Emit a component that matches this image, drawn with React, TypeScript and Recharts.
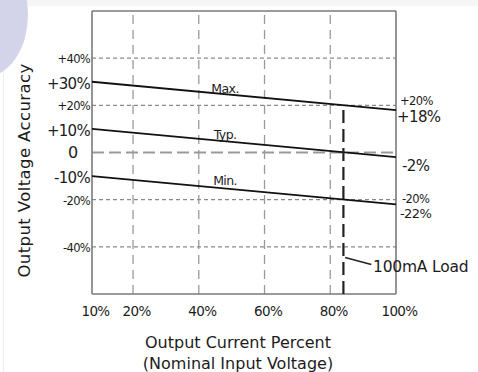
import React from 'react';
import { LineChart, Line, XAxis, YAxis, ReferenceLine, ReferenceDot } from 'recharts';

// ---- data ----
const X_VALUES = [10, 100];
const MAX_VALUES = [30, 18];
const TYP_VALUES = [10, -2];
const MIN_VALUES = [-10, -22];

const X_TICKS = [10, 20, 40, 60, 80, 100];
const X_TICK_LABELS = ['10%', '20%', '40%', '60%', '80%', '100%'];
const Y_TICKS = [40, 30, 20, 10, 0, -10, -20, -40];
const Y_TICK_LABELS = ['+40%', '+30%', '+20%', '+10%', '0', '-10%', '-20%', '-40%'];

const H_GRID = [40, 20, -20, -40];
const V_GRID = [20, 40, 60, 80];

const RIGHT_LABEL_TEXTS = ['+20%', '+18%', '-2%', '-20%', '-22%'];
const RIGHT_LABEL_VALUES = [20, 18, -2, -20, -22];

const SERIES_NAMES = ['Max.', 'Typ.', 'Min.'];
const SERIES_LABEL_X = [48, 48, 48];
const SERIES_LABEL_Y = [27.2, 7.7, -11.7];

const LOAD_X = 84;
const LOAD_TOP = 18;
const LOAD_TEXT = '100mA Load';

const data = X_VALUES.map((x, i) => ({ x, max: MAX_VALUES[i], typ: TYP_VALUES[i], min: MIN_VALUES[i] }));

// ---- styles ----
const FONT = '"DejaVu Sans", "Liberation Sans", sans-serif';
const TXT = '#1c1c1c';
const BIG_Y = new Set([30, 10, -10]);
const RIGHT_STYLE = [
  { size: 11.5, dx: 4, dy: -4 },
  { size: 15, dx: 1, dy: 7 },
  { size: 15, dx: 6, dy: 8 },
  { size: 11.5, dx: 6, dy: -1 },
  { size: 13, dx: 4, dy: 9 },
];

// piecewise linear x scale (the drawn axis is compressed between 10% and 20%)
const X_BREAKS = [10, 20, 100];
const X_BREAK_FRACS = [0, 0.135, 1];

function piecewiseScale(): any {
  let dom: number[] = [10, 100];
  let rng: number[] = [0, 1];
  const frac = (v: number) => {
    for (let i = 0; i < X_BREAKS.length - 1; i++) {
      const a = X_BREAKS[i];
      const b = X_BREAKS[i + 1];
      if (v <= b || i === X_BREAKS.length - 2) {
        const t = (v - a) / (b - a);
        return X_BREAK_FRACS[i] + t * (X_BREAK_FRACS[i + 1] - X_BREAK_FRACS[i]);
      }
    }
    return 0;
  };
  const s: any = (v: number) => rng[0] + frac(Number(v)) * (rng[1] - rng[0]);
  s.domain = (d?: number[]) => {
    if (d === undefined) return dom.slice();
    dom = d.slice();
    return s;
  };
  s.range = (r?: number[]) => {
    if (r === undefined) return rng.slice();
    rng = r.slice();
    return s;
  };
  s.copy = () => {
    const c = piecewiseScale();
    c.domain(dom);
    c.range(rng);
    return c;
  };
  s.ticks = () => X_TICKS.slice();
  s.tickFormat = () => (v: number) => String(v);
  s.nice = () => s;
  s.clamp = () => s;
  s.invert = (px: number) => {
    const f = (px - rng[0]) / (rng[1] - rng[0]);
    for (let i = 0; i < X_BREAKS.length - 1; i++) {
      if (f <= X_BREAK_FRACS[i + 1] || i === X_BREAKS.length - 2) {
        const t = (f - X_BREAK_FRACS[i]) / (X_BREAK_FRACS[i + 1] - X_BREAK_FRACS[i]);
        return X_BREAKS[i] + t * (X_BREAKS[i + 1] - X_BREAKS[i]);
      }
    }
    return X_BREAKS[0];
  };
  return s;
}

const xScale = piecewiseScale();

const XTick = (p: any) => {
  const idx = X_TICKS.indexOf(p.payload.value);
  return (
    <text x={p.x + 3.5} y={p.y + 22} textAnchor="middle" fontFamily={FONT} fontSize={13.5} fill={TXT} letterSpacing={-0.6}>
      {X_TICK_LABELS[idx]}
    </text>
  );
};

const YTick = (p: any) => {
  const v = p.payload.value;
  const idx = Y_TICKS.indexOf(v);
  if (v === 0) {
    return (
      <text x={73} y={p.y} dy="0.36em" textAnchor="middle" fontFamily={FONT} fontSize={16} fill={TXT}>
        {Y_TICK_LABELS[idx]}
      </text>
    );
  }
  const big = BIG_Y.has(v);
  return (
    <text x={p.x - 2} y={p.y + (big ? 2 : 1)} dy="0.36em" textAnchor="end" fontFamily={FONT} fontSize={big ? 15 : 11.5} fill={TXT} letterSpacing={-0.7}>
      {Y_TICK_LABELS[idx]}
    </text>
  );
};

const XTitle = (p: any) => {
  const vb = p.viewBox;
  const cx = vb.x + vb.width / 2 - 6;
  return (
    <text textAnchor="middle" fontFamily={FONT} fontSize={16} fill={TXT} letterSpacing={0}>
      <tspan x={cx} y={vb.y + 54}>Output Current Percent</tspan>
      <tspan x={cx} y={vb.y + 75}>(Nominal Input Voltage)</tspan>
    </text>
  );
};

const YTitle = (p: any) => {
  const vb = p.viewBox;
  const cx = vb.x + 24;
  const cy = vb.y + vb.height / 2 + 18;
  return (
    <text x={cx} y={cy} dy="0.35em" textAnchor="middle" transform={`rotate(-90 ${cx} ${cy})`} fontFamily={FONT} fontSize={16.5} fill={TXT} letterSpacing={0.4}>
      Output Voltage Accuracy
    </text>
  );
};

const textLabel = (text: string, size: number, dx: number, dy: number, anchor: string = 'start', spacing: number = -0.6) => ({
  content: (p: any) => {
    const vb = p.viewBox || {};
    const x = (vb.x || 0) + (vb.width || 0) / 2 + dx;
    const y = (vb.y || 0) + (vb.height || 0) / 2 + dy;
    return (
      <text x={x} y={y} dy="0.36em" textAnchor={anchor} fontFamily={FONT} fontSize={size} fill={TXT} letterSpacing={spacing}>
        {text}
      </text>
    );
  },
});

export default function App() {
  return (
    <div style={{ position: 'absolute', left: 0, top: 0, width: 478, height: 372, background: '#ffffff', overflow: 'hidden' }}>
      <div style={{ position: 'absolute', left: 0, top: 0, width: 478, height: 6, background: '#f6f6f6' }} />
      <div style={{ position: 'absolute', left: 3, top: 6, width: 1, height: 366, background: '#efefef' }} />
      <div style={{ position: 'absolute', left: -58, top: -47, width: 86, height: 124, borderRadius: '50%', background: '#d3d4ea' }} />
      <div style={{ position: 'absolute', left: 0, top: 0 }}>
        <LineChart width={478} height={372} data={data} margin={{ top: 11, right: 82, bottom: 0, left: 0 }}>
          <XAxis
            dataKey="x"
            type="number"
            scale={xScale}
            domain={[10, 100]}
            ticks={X_TICKS}
            interval={0}
            height={78}
            axisLine={false}
            tickLine={false}
            tickSize={0}
            tickMargin={0}
            tick={<XTick />}
            label={{ content: <XTitle /> } as any}
          />
          <YAxis
            type="number"
            domain={[-60, 60]}
            ticks={Y_TICKS}
            interval={0}
            width={92}
            axisLine={false}
            tickLine={false}
            tickSize={0}
            tickMargin={0}
            tick={<YTick />}
            label={{ content: <YTitle /> } as any}
          />
          {V_GRID.map((v) => (
            <ReferenceLine key={'vg' + v} x={v} stroke="#9a9a9a" strokeWidth={1.3} strokeDasharray="9 6" />
          ))}
          {H_GRID.map((v) => (
            <ReferenceLine key={'hg' + v} y={v} stroke="#8a8a8a" strokeWidth={1.2} strokeDasharray="4 3" />
          ))}
          <ReferenceLine y={0} stroke="#999999" strokeWidth={2} strokeDasharray="12 5" />
          <ReferenceLine x={10} stroke="#7a7a7a" strokeWidth={1.6} />
          <ReferenceLine x={100} stroke="#7a7a7a" strokeWidth={1.6} />
          <ReferenceLine y={60} stroke="#7a7a7a" strokeWidth={1.6} />
          <ReferenceLine y={-60} stroke="#7a7a7a" strokeWidth={1.6} />
          <Line dataKey="max" stroke="#111" strokeWidth={1.8} dot={false} activeDot={false} isAnimationActive={false} />
          <Line dataKey="typ" stroke="#111" strokeWidth={1.8} dot={false} activeDot={false} isAnimationActive={false} />
          <Line dataKey="min" stroke="#111" strokeWidth={1.8} dot={false} activeDot={false} isAnimationActive={false} />
          <ReferenceLine
            segment={[{ x: LOAD_X, y: LOAD_TOP }, { x: LOAD_X, y: -60 }]}
            stroke="#222"
            strokeWidth={2.2}
            strokeDasharray="13 6"
          />
          <ReferenceLine
            segment={[{ x: LOAD_X + 0.5, y: -44.5 }, { x: LOAD_X + 8.5, y: -47.5 }]}
            stroke="#222"
            strokeWidth={1.5}
          />
          <ReferenceDot x={LOAD_X + 9} y={-48.2} r={0} fill="none" stroke="none" ifOverflow="visible" label={textLabel(LOAD_TEXT, 15.5, 0, 0, 'start', -0.2) as any} />
          {SERIES_NAMES.map((n, i) => (
            <ReferenceDot key={n} x={SERIES_LABEL_X[i]} y={SERIES_LABEL_Y[i]} r={0} fill="none" stroke="none" label={textLabel(n, 12.5, 0, 0, 'middle') as any} />
          ))}
          {RIGHT_LABEL_TEXTS.map((t, i) => (
            <ReferenceDot
              key={t}
              x={100}
              y={RIGHT_LABEL_VALUES[i]}
              r={0}
              fill="none"
              stroke="none"
              ifOverflow="visible"
              label={textLabel(t, RIGHT_STYLE[i].size, RIGHT_STYLE[i].dx, RIGHT_STYLE[i].dy) as any}
            />
          ))}
        </LineChart>
      </div>
    </div>
  );
}
